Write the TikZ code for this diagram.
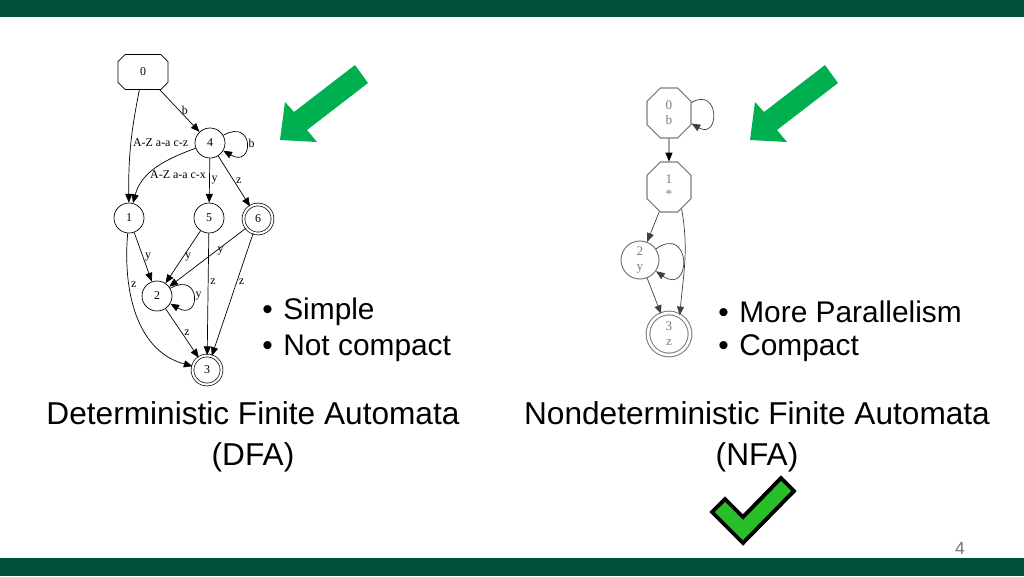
\documentclass[tikz,border=0pt]{standalone}
\usepackage{fontspec}
\setmainfont{Liberation Sans}
\newfontfamily\graphfont{Liberation Serif}
\usetikzlibrary{arrows.meta,shapes.misc}
\definecolor{slidegreen}{RGB}{0,80,58}
\definecolor{arrowgreen}{RGB}{0,176,80}
\definecolor{checkgreen}{RGB}{40,190,40}
\definecolor{nfagray}{RGB}{125,125,125}
\tikzset{
    dfa-state/.style = {draw, circle, thin, minimum size=0.6cm, inner sep=0pt, font=\graphfont\fontsize{6.8}{8}\selectfont},
    dfa-accept/.style = {dfa-state, double, double distance=1.2pt, minimum size=0.58cm},
    dfa-start/.style = {draw, thin, chamfered rectangle, chamfered rectangle xsep=0.25cm, chamfered rectangle ysep=0.22cm, minimum width=1cm, minimum height=0.7cm, inner sep=0pt, font=\graphfont\fontsize{6.8}{8}\selectfont},
    dfa-edge/.style = {-{Triangle[length=5pt,width=4pt]}, thin},
    edge-label/.style = {font=\graphfont\fontsize{6.8}{8}\selectfont, inner sep=1pt},
    nfa-state/.style = {draw=nfagray, text=nfagray, semithick, circle, minimum size=0.76cm, inner sep=0pt, align=center, font=\graphfont\fontsize{7.5}{8.5}\selectfont},
    nfa-accept/.style = {nfa-state, double, double distance=1.5pt, minimum size=0.84cm},
    nfa-oct/.style = {nfa-state, rectangle, chamfered rectangle, chamfered rectangle xsep=0.2cm, chamfered rectangle ysep=0.28cm, minimum width=0.88cm, minimum height=1cm},
    nfa-edge/.style = {-{Triangle[length=5pt,width=4pt]}, thin, draw=black!75},
    bullet-text/.style = {anchor=west, font=\fontsize{17}{20}\selectfont, inner sep=0pt},
    title-text/.style = {align=center, font=\fontsize{18}{23.5}\selectfont},
}

\begin{document}
\begin{tikzpicture}[x=0.02cm, y=-0.02cm]
\useasboundingbox (0,0) rectangle (1024,576);
\fill[slidegreen] (0,0) rectangle (1024,17);
\fill[slidegreen] (0,558) rectangle (1024,576);

% DFA graph
\node[dfa-start] (d0) at (143,72) {0};
\node[dfa-state] (d4) at (210,143) {4};
\node[dfa-state] (d1) at (129,218) {1};
\node[dfa-state] (d5) at (209,218) {5};
\node[dfa-accept] (d6) at (258,219) {6};
\node[dfa-state] (d2) at (157,296) {2};
\node[dfa-accept] (d3) at (207,370) {3};

\draw[dfa-edge] (d0) to[bend right=6] node[edge-label, pos=0.47, right] {A-Z a-a c-z} (d1);
\draw[dfa-edge] (d0) -- node[edge-label, right] {b} (d4);
\draw[dfa-edge] (d4) to[out=30, in=-30, looseness=6] node[edge-label, right] {b} (d4);
\draw[dfa-edge] (d4) to[out=200, in=75] node[edge-label, pos=0.5, below right, xshift=-4.5pt] {A-Z a-a c-x} (d1);
\draw[dfa-edge] (d4) -- node[edge-label, right] {y} (d5);
\draw[dfa-edge] (d4) -- node[edge-label, right] {z} (d6);
\draw[dfa-edge] (d1) -- node[edge-label, right] {y} (d2);
\draw[dfa-edge] (d5) -- node[edge-label, right] {y} (d2);
\draw[dfa-edge] (d6) -- node[edge-label, right, pos=0.4] {y} (d2);
\draw[dfa-edge] (d1) to[out=-95, in=165] node[edge-label, pos=0.3, right] {z} (d3);
\draw[dfa-edge] (d2) to[out=30, in=-30, looseness=6] node[edge-label, right] {y} (d2);
\draw[dfa-edge] (d5) -- node[edge-label, right, pos=0.4] {z} (d3);
\draw[dfa-edge] (d6) -- node[edge-label, right, pos=0.4] {z} (d3);
\draw[dfa-edge] (d2) -- node[edge-label, right] {z} (d3);

% NFA graph
\node[nfa-oct] (n0) at (669,113) {0\\b};
\node[nfa-oct] (n1) at (669,187) {1\\*};
\node[nfa-state] (n2) at (640,260) {2\\y};
\node[nfa-accept] (n3) at (669,334) {3\\z};

\draw[nfa-edge, draw=black] (n0) -- (n1);
\draw[nfa-edge] (n0.25) to[out=30, in=-30, looseness=4] (n0.-25);
\draw[nfa-edge] (n1) -- (n2);
\draw[nfa-edge] (n1.-60) to[out=-80, in=85] (n3.60);
\draw[nfa-edge] (n2) -- (n3);
\draw[nfa-edge] (n2) to[out=35, in=-35, looseness=5] (n2);

% green pointers
\foreach \dx in {0,470} {
    \fill[arrowgreen, shift={(\dx,0)}] (280,140) -- (285,102) -- (294,112) -- (355,65)
        -- (368,83) -- (307,130) -- (317,142) -- cycle;
}

% bullets
\node[bullet-text] (simple) at (262,312) {\textbullet\hspace{6pt}Simple};
\node[bullet-text] (notcompact) at (262,348) {\textbullet\hspace{6pt}Not compact};
\node[bullet-text] (parallel) at (718,312) {\textbullet\hspace{6pt}More Parallelism};
\node[bullet-text] (compact) at (718,348) {\textbullet\hspace{6pt}Compact};

% titles
\node[title-text] (dfa) at (253,437) {Deterministic Finite Automata\\(DFA)};
\node[title-text] (nfa) at (757,437) {Nondeterministic Finite Automata\\(NFA)};

% check mark
\filldraw[fill=checkgreen, draw=black, line width=2.2pt, line join=miter]
    (712,512) -- (725,499) -- (743,517) -- (781,478) -- (794,491) -- (743,543) -- cycle;

\node[text=black!55, font=\fontsize{10}{12}\selectfont] (page) at (960,548) {4};
\end{tikzpicture}
\end{document}
